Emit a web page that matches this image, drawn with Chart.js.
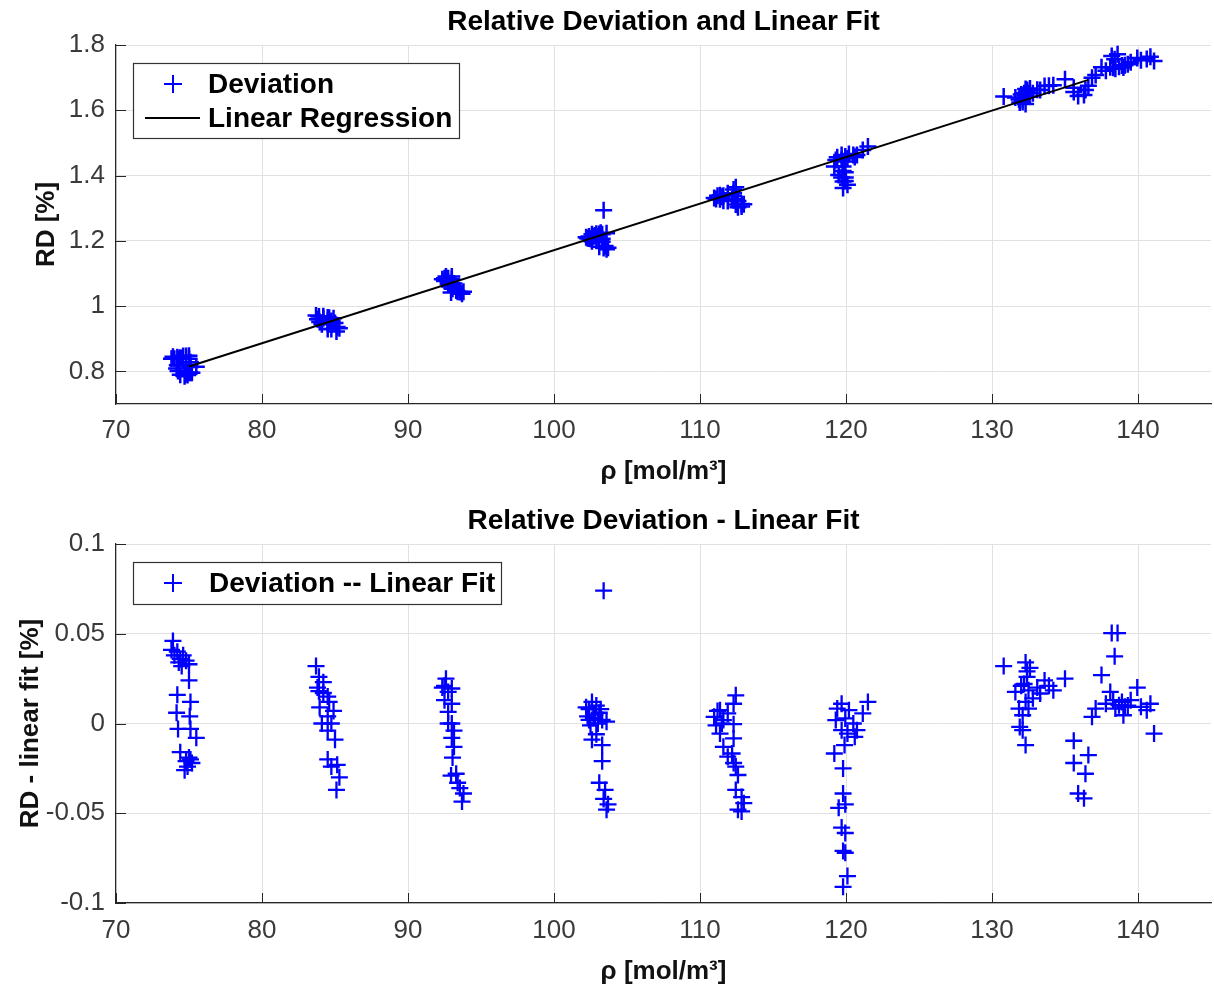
<!DOCTYPE html>
<html><head><meta charset="utf-8">
<script src="https://cdn.jsdelivr.net/npm/chart.js@4.4.0/dist/chart.umd.min.js"></script>
<style>
html,body{margin:0;padding:0;background:#fff;}
#wrap{position:relative;width:1214px;height:992px;background:#fff;}
.box{position:absolute;left:0;width:1214px;height:496px;}
</style></head><body>
<div id="wrap">
<div class="box" style="top:0"><canvas id="c1" width="1214" height="496"></canvas></div>
<div class="box" style="top:496px"><canvas id="c2" width="1214" height="496"></canvas></div>
</div>
<script>
// density rho [mol/m3]
const rho = [
73.9,73.8,74.0,74.2,74.4,74.6,74.3,74.8,74.5,75.0,75.0,74.2,75.1,74.15,75.05,74.25,75.1,75.5,74.4,75.0,74.8,75.2,74.9,75.1,74.7,
83.7,83.9,83.8,84.2,83.9,84.5,84.2,84.6,83.95,84.9,84.5,84.1,84.75,84.5,85.0,84.5,85.15,84.75,85.3,85.1,
92.6,92.5,93.0,92.75,92.35,92.5,93.0,92.75,93.0,92.75,93.15,93.0,93.15,93.05,93.3,92.95,93.4,93.55,93.8,93.7,
103.4,102.4,102.6,102.9,103.1,102.3,102.7,103.3,103.6,102.5,103.0,102.8,102.9,102.6,103.3,103.3,103.1,103.5,103.4,103.7,103.6,102.2,103.2,102.4,
112.45,111.37,110.97,111.9,111.1,111.6,112.3,112.3,111.37,112.3,111.6,112.2,111.9,112.3,112.45,112.6,112.45,112.85,113.0,112.6,112.85,111.2,111.5,
121.5,121.15,119.7,119.4,120.2,119.3,119.95,120.5,119.7,120.75,120.1,120.6,119.2,119.9,119.8,119.8,119.5,119.95,119.7,119.95,119.95,119.8,120.1,119.8,
130.8,132.3,132.4,132.4,133.6,135.0,134.2,131.6,132.0,132.5,133.1,133.3,132.8,132.3,131.85,132.5,132.1,131.9,132.1,132.3,132.2,133.9,132.6,
135.6,135.6,136.6,136.4,135.9,136.3,136.85,137.1,137.5,138.2,138.6,138.4,138.1,137.8,138.3,138.7,138.45,139.1,139.0,139.5,139.95,140.2,140.6,140.85,141.1,138.9,139.3
];
// relative deviation RD [%]
const rd = [
0.845,0.839,0.839,0.843,0.842,0.847,0.839,0.847,0.840,0.848,0.839,0.819,0.828,0.809,0.820,0.801,0.813,0.814,0.790,0.796,0.791,0.796,0.789,0.796,0.785,
0.971,0.968,0.960,0.969,0.960,0.965,0.963,0.964,0.951,0.963,0.954,0.944,0.954,0.946,0.948,0.930,0.936,0.930,0.932,0.922,
1.091,1.085,1.091,1.085,1.082,1.077,1.082,1.074,1.071,1.068,1.069,1.063,1.060,1.053,1.048,1.042,1.044,1.043,1.044,1.038,
1.294,1.213,1.220,1.222,1.221,1.208,1.213,1.220,1.223,1.206,1.214,1.216,1.206,1.199,1.206,1.197,1.182,1.184,1.178,1.179,1.174,1.211,1.225,1.207,
1.364,1.340,1.331,1.346,1.328,1.338,1.346,1.357,1.327,1.338,1.323,1.328,1.322,1.324,1.324,1.322,1.311,1.313,1.312,1.303,1.305,1.338,1.335,
1.489,1.478,1.463,1.456,1.466,1.448,1.458,1.463,1.448,1.463,1.452,1.457,1.428,1.443,1.428,1.414,1.402,1.410,1.394,1.394,1.383,1.382,1.372,1.362,
1.642,1.665,1.662,1.659,1.674,1.695,1.677,1.639,1.648,1.653,1.663,1.662,1.652,1.643,1.633,1.642,1.633,1.624,1.625,1.619,1.652,1.675,1.667,
1.669,1.656,1.675,1.662,1.644,1.647,1.700,1.708,1.732,1.766,1.772,1.756,1.732,1.721,1.730,1.733,1.727,1.738,1.731,1.747,1.760,1.753,1.757,1.764,1.751,1.737,1.741
];
// RD - linear fit [%]
const rdMinusFit = [
0.046,0.041,0.038,0.040,0.036,0.038,0.034,0.035,0.032,0.033,0.024,0.016,0.012,0.006,0.004,-0.003,-0.003,-0.008,-0.016,-0.019,-0.021,-0.022,-0.024,-0.020,-0.026,
0.032,0.026,0.020,0.023,0.018,0.015,0.017,0.012,0.009,0.007,0.004,0.000,0.000,-0.004,-0.009,-0.020,-0.023,-0.024,-0.030,-0.037,
0.025,0.021,0.0195,0.0176,0.020,0.013,0.011,0.0065,0.000,0.000,-0.004,-0.008,-0.013,-0.019,-0.028,-0.029,-0.033,-0.036,-0.039,-0.0435,
0.074,0.008,0.012,0.010,0.006,0.004,0.003,0.002,0.001,-0.001,0.000,0.005,-0.006,-0.009,-0.012,-0.021,-0.033,-0.037,-0.042,-0.045,-0.048,0.009,0.008,0.002,
0.0157,0.0074,0.0037,0.0056,-0.001,0.0019,-0.0004,0.011,-0.0056,-0.0083,-0.013,-0.0167,-0.0185,-0.022,-0.024,-0.0287,-0.037,-0.041,-0.0444,-0.048,-0.049,0.007,0.000,
0.012,0.0056,0.011,0.0083,0.0074,0.0019,0.0028,0.000,-0.0037,-0.0037,-0.0056,-0.0074,-0.0167,-0.012,-0.025,-0.039,-0.047,-0.045,-0.058,-0.061,-0.072,-0.071,-0.085,-0.091,
0.032,0.034,0.029,0.026,0.024,0.025,0.0185,0.0176,0.021,0.0185,0.020,0.0167,0.014,0.012,0.0083,0.0083,0.0046,-0.0019,-0.0037,-0.012,0.022,0.021,0.031,
-0.0096,-0.022,-0.0176,-0.028,-0.039,-0.0417,0.0037,0.0083,0.027,0.0504,0.0504,0.0374,0.0176,0.011,0.013,0.0102,0.0083,0.0093,0.0046,0.013,0.020,0.0093,0.0074,0.011,-0.0056,0.012,0.010
];
// linear regression line end points
const fitRho = [75.0, 136.6];
const fitRd = [0.815, 1.693];

const xTicks = [70, 80, 90, 100, 110, 120, 130, 140];
const topYTicks = [0.8, 1, 1.2, 1.4, 1.6, 1.8];
const botYTicks = [-0.1, -0.05, 0, 0.05, 0.1];

const FONT = "'Liberation Sans', Arial, Helvetica, sans-serif";
const AX = '#262626';
const TICKC = '#3a3a3a';
const GRID = '#e1e1e1';
const BLUE = '#0000ff';

function fmt(v) { return String(Number(Number(v).toFixed(3))); }

const innerTicks = {
  id: 'innerTicks',
  afterDatasetsDraw(chart) {
    const {ctx, chartArea, scales} = chart;
    ctx.save();
    ctx.strokeStyle = AX; ctx.lineWidth = 1;
    ctx.beginPath();
    scales.x.ticks.forEach(t => {
      const px = Math.round(scales.x.getPixelForValue(t.value)) + 0.5;
      ctx.moveTo(px, chartArea.bottom); ctx.lineTo(px, chartArea.bottom - 10);
    });
    scales.y.ticks.forEach(t => {
      const py = Math.round(scales.y.getPixelForValue(t.value)) + 0.5;
      ctx.moveTo(chartArea.left, py); ctx.lineTo(chartArea.left + 10, py);
    });
    ctx.stroke();
    ctx.restore();
  }
};

const boxLegend = {
  id: 'boxLegend',
  afterDraw(chart, args, o) {
    if (!o || !o.w) return;
    const {ctx, chartArea} = chart;
    const x0 = Math.round(chartArea.left + o.dx), y0 = Math.round(chartArea.top + o.dy);
    ctx.save();
    ctx.fillStyle = '#fff';
    ctx.fillRect(x0, y0, o.w, o.h);
    ctx.strokeStyle = '#333'; ctx.lineWidth = 1.2;
    ctx.strokeRect(x0 + 0.5, y0 + 0.5, o.w, o.h);
    ctx.font = 'bold 28px ' + FONT;
    ctx.textBaseline = 'middle';
    ctx.textAlign = 'left';
    chart.data.datasets.forEach((ds, i) => {
      const cy = y0 + o.row0 + i * o.rowH;
      if (ds.showLine) {
        ctx.strokeStyle = '#000'; ctx.lineWidth = 2;
        ctx.beginPath(); ctx.moveTo(x0 + 12, cy); ctx.lineTo(x0 + 67, cy); ctx.stroke();
      } else {
        ctx.strokeStyle = BLUE; ctx.lineWidth = 2;
        ctx.beginPath();
        ctx.moveTo(x0 + 31, cy); ctx.lineTo(x0 + 49, cy);
        ctx.moveTo(x0 + 40, cy - 9); ctx.lineTo(x0 + 40, cy + 9);
        ctx.stroke();
      }
      ctx.fillStyle = '#000';
      ctx.fillText(ds.label, x0 + o.tx, cy + 1);
    });
    ctx.restore();
  }
};

function makeOptions(cfg) {
  return {
    responsive: false,
    animation: false,
    events: [],
    layout: { autoPadding: false, padding: { left: 0, right: 3, top: 0, bottom: 0 } },
    plugins: {
      legend: { display: false },
      tooltip: { enabled: false },
      title: {
        display: true, text: cfg.title, fullSize: false, color: '#000',
        font: { family: FONT, size: 28, weight: 'bold', lineHeight: 1 },
        padding: { top: cfg.titleTop, bottom: cfg.titleBottom }
      },
      boxLegend: cfg.legend
    },
    scales: {
      x: {
        type: 'linear', min: 70, max: 145,
        afterFit(s) { s.height = cfg.xHeight; s.paddingLeft = 0; s.paddingRight = 0; },
        afterBuildTicks(s) { s.ticks = xTicks.map(v => ({ value: v })); },
        ticks: { color: TICKC, padding: cfg.xTickPad, font: { family: FONT, size: 26, lineHeight: 1 }, callback: fmt, maxRotation: 0, autoSkip: false },
        grid: { color: GRID, lineWidth: 1, drawTicks: false },
        border: { display: true, color: AX, width: 1.2 },
        title: { display: true, text: 'ρ [mol/m³]', color: '#111', font: { family: FONT, size: 26, weight: 'bold', lineHeight: 1 }, padding: { top: 0, bottom: cfg.xTitleBottom } }
      },
      y: {
        type: 'linear', min: cfg.ymin, max: cfg.ymax,
        afterFit(s) { s.width = 116; s.paddingTop = 0; s.paddingBottom = 0; },
        afterBuildTicks(s) { s.ticks = cfg.yTicks.map(v => ({ value: v })); },
        ticks: { color: TICKC, padding: 11, font: { family: FONT, size: 26, lineHeight: 1 }, callback: fmt, autoSkip: false },
        grid: { color: GRID, lineWidth: 1, drawTicks: false },
        border: { display: true, color: AX, width: 1.2 },
        title: { display: true, text: cfg.yTitle, color: '#111', font: { family: FONT, size: 26, weight: 'bold', lineHeight: 1 }, padding: { top: cfg.yTitlePad, bottom: 0 } }
      }
    }
  };
}

const devPoints = rho.map((x, i) => ({ x: x, y: rd[i] }));
const fitPoints = fitRho.map((x, i) => ({ x: x, y: fitRd[i] }));
const resPoints = rho.map((x, i) => ({ x: x, y: rdMinusFit[i] }));

new Chart(document.getElementById('c1'), {
  type: 'scatter',
  data: {
    datasets: [
      { label: 'Deviation', data: devPoints, showLine: false, order: 1,
        pointStyle: 'cross', pointRadius: 8.5, pointBorderWidth: 2.5,
        pointBorderColor: BLUE, pointBackgroundColor: BLUE, borderColor: BLUE },
      { label: 'Linear Regression', data: fitPoints, showLine: true, order: 0,
        borderColor: '#000', borderWidth: 2, pointRadius: 0, fill: false }
    ]
  },
  options: makeOptions({
    title: 'Relative Deviation and Linear Fit', titleTop: 8, titleBottom: 9,
    xHeight: 92, xTickPad: 14, xTitleBottom: 11,
    ymin: 0.7, ymax: 1.8, yTicks: topYTicks, yTitle: 'RD [%]', yTitlePad: 34,
    legend: { dx: 17, dy: 18, w: 326, h: 75, row0: 21, rowH: 34, tx: 75 }
  }),
  plugins: [innerTicks, boxLegend]
});

new Chart(document.getElementById('c2'), {
  type: 'scatter',
  data: {
    datasets: [
      { label: 'Deviation -- Linear Fit', data: resPoints, showLine: false,
        pointStyle: 'cross', pointRadius: 8.5, pointBorderWidth: 2.3,
        pointBorderColor: BLUE, pointBackgroundColor: BLUE, borderColor: BLUE }
    ]
  },
  options: makeOptions({
    title: 'Relative Deviation - Linear Fit', titleTop: 11, titleBottom: 9,
    xHeight: 89, xTickPad: 15, xTitleBottom: 7,
    ymin: -0.1, ymax: 0.1, yTicks: botYTicks, yTitle: 'RD - linear fit [%]', yTitlePad: 18,
    legend: { dx: 17, dy: 18, w: 368, h: 42, row0: 21, rowH: 34, tx: 76 }
  }),
  plugins: [innerTicks, boxLegend]
});
</script>
</body></html>
